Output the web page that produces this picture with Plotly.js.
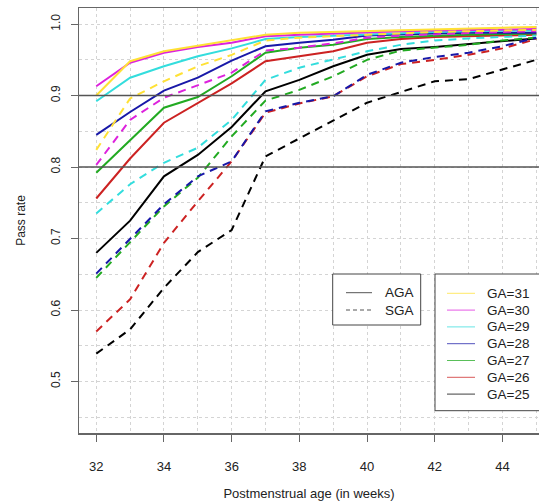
<!DOCTYPE html>
<html><head><meta charset="utf-8">
<script src="https://cdn.plot.ly/plotly-3.0.1.min.js"></script>
<style>html,body{margin:0;padding:0;background:#fff}#chart{width:539px;height:501px}</style>
</head><body><div id="chart"></div>
<script>
// ---- data ----
const weeks = [32,33,34,35,36,37,38,39,40,41,42,43,44,45];
// AGA (solid)
const aga31 = [0.900,0.948,0.962,0.970,0.978,0.985,0.988,0.989,0.990,0.992,0.993,0.994,0.995,0.996];
const aga30 = [0.913,0.946,0.960,0.968,0.974,0.983,0.985,0.987,0.989,0.990,0.991,0.992,0.993,0.993];
const aga29 = [0.892,0.925,0.941,0.955,0.966,0.979,0.982,0.984,0.986,0.988,0.989,0.990,0.991,0.991];
const aga28 = [0.845,0.877,0.907,0.925,0.949,0.969,0.974,0.978,0.984,0.986,0.987,0.988,0.988,0.988];
const aga27 = [0.792,0.838,0.883,0.898,0.927,0.960,0.967,0.971,0.979,0.982,0.984,0.985,0.986,0.987];
const aga26 = [0.756,0.812,0.862,0.890,0.917,0.948,0.955,0.962,0.974,0.979,0.982,0.983,0.984,0.985];
const aga25 = [0.680,0.725,0.787,0.817,0.856,0.906,0.922,0.941,0.957,0.965,0.968,0.972,0.976,0.980];
// SGA (dashed)
const sga31 = [0.824,0.896,0.920,0.941,0.957,0.977,0.981,0.983,0.986,0.988,0.989,0.990,0.991,0.992];
const sga30 = [0.803,0.866,0.897,0.915,0.932,0.963,0.967,0.973,0.981,0.984,0.986,0.988,0.989,0.990];
const sga29 = [0.735,0.776,0.806,0.827,0.866,0.922,0.939,0.950,0.962,0.971,0.977,0.980,0.982,0.984];
const sga28 = [0.651,0.700,0.748,0.787,0.808,0.878,0.890,0.899,0.929,0.946,0.954,0.960,0.969,0.981];
const sga27 = [0.645,0.695,0.745,0.785,0.843,0.893,0.908,0.927,0.950,0.963,0.967,0.971,0.977,0.981];
const sga26 = [0.570,0.615,0.694,0.752,0.808,0.876,0.889,0.899,0.927,0.944,0.950,0.957,0.966,0.979];
const sga25 = [0.539,0.573,0.631,0.681,0.712,0.815,0.840,0.865,0.890,0.905,0.920,0.923,0.937,0.950];

const gaLabels = ['GA=31','GA=30','GA=29','GA=28','GA=27','GA=26','GA=25'];
const gaColors = ['#ffe135','#dd22dd','#33dddd','#1818a8','#22aa22','#cc2222','#000000'];
const agaSeries = [aga31,aga30,aga29,aga28,aga27,aga26,aga25];
const sgaSeries = [sga31,sga30,sga29,sga28,sga27,sga26,sga25];
const groupLabels = ['AGA','SGA'];
const refLines = [0.8, 0.9];

// ---- layout helpers (pixel -> paper) ----
const W = 539, H = 501, ML = 79, MR = 0, MT = 8, MB = 68;
const PW = W - ML - MR, PH = H - MT - MB;
const px = v => (v - ML) / PW;
const py = v => (H - MB - v) / PH;

const traces = [];
for (let i = gaLabels.length - 1; i >= 0; i--) {
  traces.push({x: weeks, y: sgaSeries[i], type: 'scatter', mode: 'lines', name: gaLabels[i] + ' SGA',
    line: {color: gaColors[i], width: 2, dash: '8px,6px'}, showlegend: false, hoverinfo: 'skip'});
  traces.push({x: weeks, y: agaSeries[i], type: 'scatter', mode: 'lines', name: gaLabels[i] + ' AGA',
    line: {color: gaColors[i], width: 2}, showlegend: false, hoverinfo: 'skip'});
}

const shapes = [];
const annotations = [];
refLines.forEach(r => shapes.push({type: 'line', xref: 'paper', yref: 'y', x0: 0, x1: 1, y0: r, y1: r,
  line: {color: '#555', width: 1.6}, layer: 'above'}));

const txtFont = {family: 'Liberation Sans, Arial, sans-serif', size: 13.5, color: '#222'};
// legend 1: line type
shapes.push({type: 'rect', xref: 'paper', yref: 'paper', x0: px(332.7), x1: px(420.7), y0: py(325), y1: py(274),
  line: {color: '#444', width: 1}, fillcolor: '#fff', layer: 'above'});
groupLabels.forEach((g, k) => {
  const yy = 292.7 + k * 17.3;
  shapes.push({type: 'line', xref: 'paper', yref: 'paper', x0: px(346), x1: px(372), y0: py(yy), y1: py(yy),
    line: {color: '#555', width: 1, dash: k === 0 ? 'solid' : '4px,3px'}, layer: 'above'});
  annotations.push({xref: 'paper', yref: 'paper', x: px(383), y: py(yy), text: g, showarrow: false,
    xanchor: 'left', yanchor: 'middle', font: txtFont});
});
// legend 2: gestational age colours
shapes.push({type: 'rect', xref: 'paper', yref: 'paper', x0: px(435), x1: px(580), y0: py(410.7), y1: py(274),
  line: {color: '#444', width: 1}, fillcolor: '#fff', layer: 'above'});
gaLabels.forEach((g, k) => {
  const yy = 293.3 + k * 16.8;
  shapes.push({type: 'line', xref: 'paper', yref: 'paper', x0: px(447), x1: px(475), y0: py(yy), y1: py(yy),
    line: {color: gaColors[k], width: 1}, opacity: 0.75, layer: 'above'});
  annotations.push({xref: 'paper', yref: 'paper', x: px(485), y: py(yy), text: g, showarrow: false,
    xanchor: 'left', yanchor: 'middle', font: txtFont});
});

const axisCommon = {
  ticks: 'outside', ticklen: 7, tickwidth: 1, tickcolor: '#666',
  showline: true, linecolor: '#666', linewidth: 1.5,
  showgrid: true, gridcolor: '#d4d4d4', griddash: 'dot', gridwidth: 1,
  zeroline: false, tickfont: {family: 'Liberation Sans, Arial, sans-serif', size: 13, color: '#222'}
};

const layout = {
  width: W, height: H, autosize: false,
  margin: {l: ML, r: MR, t: MT, b: MB, pad: 0},
  paper_bgcolor: '#fff', plot_bgcolor: '#fff',
  showlegend: false,
  xaxis: Object.assign({}, axisCommon, {
    range: [31.49, 45.08], tickmode: 'linear', tick0: 32, dtick: 2, mirror: true,
    ticklabelstandoff: 14,
    minor: {dtick: 1, tick0: 32, showgrid: true, gridcolor: '#d4d4d4', griddash: 'dot', gridwidth: 1, ticks: ''},
    title: {text: 'Postmenstrual age (in weeks)', font: {family: 'Liberation Sans, Arial, sans-serif', size: 13, color: '#222'}, standoff: 16}
  }),
  yaxis: Object.assign({}, axisCommon, {
    range: [0.428, 1.0225], tickmode: 'linear', tick0: 0.5, dtick: 0.1, tickformat: '.1f', tickangle: -90,
    ticklabelstandoff: 6,
    tickfont: {family: 'Liberation Sans, Arial, sans-serif', size: 12, color: '#222'},
    minor: {dtick: 0.05, tick0: 0.5, showgrid: true, gridcolor: '#d4d4d4', griddash: 'dot', gridwidth: 1, ticks: ''},
    title: {text: 'Pass rate', font: {family: 'Liberation Sans, Arial, sans-serif', size: 12, color: '#222'}, standoff: 20}
  }),
  shapes: shapes,
  annotations: annotations
};

Plotly.newPlot('chart', traces, layout, {displayModeBar: false, staticPlot: true});
</script>
</body></html>
